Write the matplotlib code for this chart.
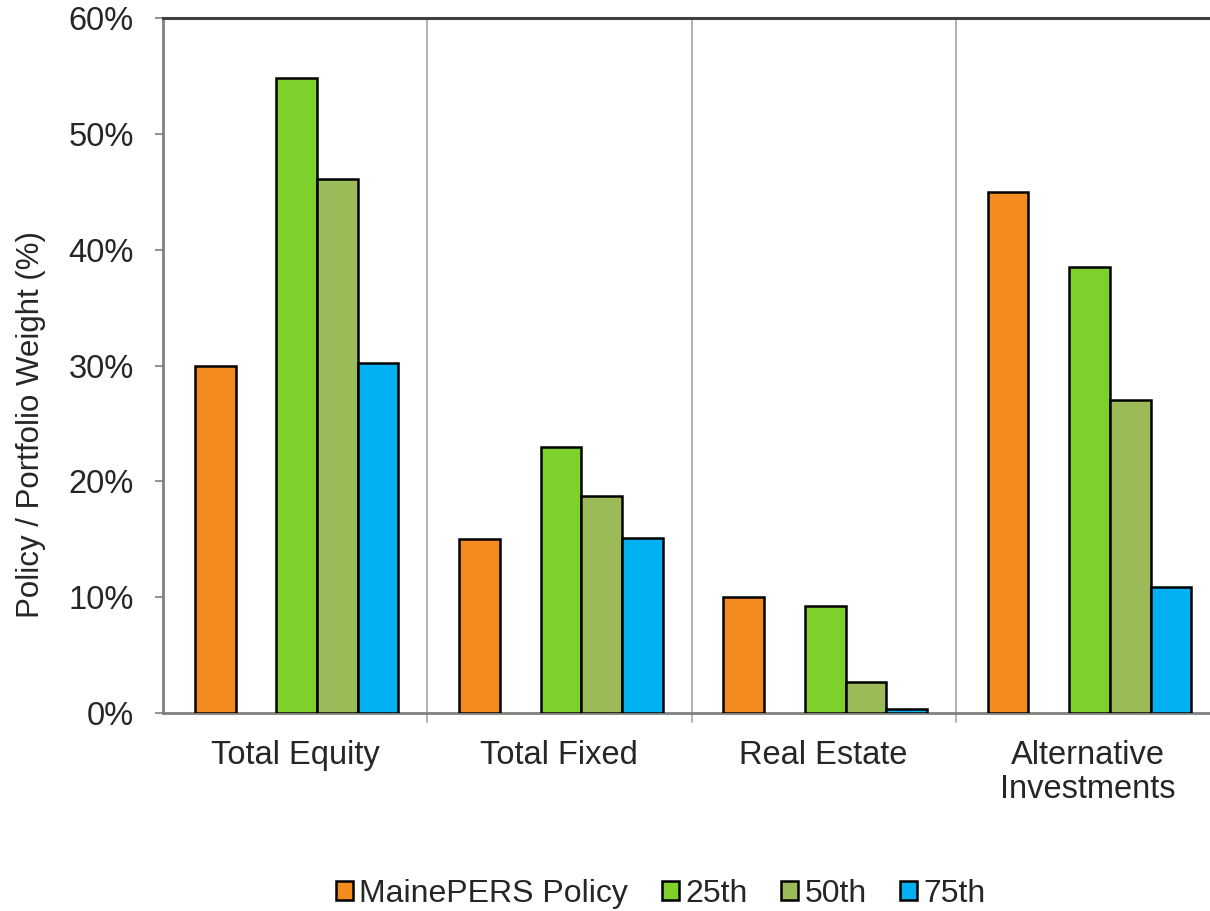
import matplotlib
matplotlib.use("Agg")
import matplotlib.pyplot as plt
from matplotlib.patches import Patch
from matplotlib.ticker import FuncFormatter

plt.rcParams['font.family'] = ['Liberation Sans', 'DejaVu Sans']

categories = ["Total Equity", "Total Fixed", "Real Estate", "Alternative\nInvestments"]
series_names = ["MainePERS Policy", "25th", "50th", "75th"]
policy = [30.0, 15.0, 10.0, 45.0]
p25 = [54.8, 23.0, 9.2, 38.5]
p50 = [46.1, 18.7, 2.7, 27.0]
p75 = [30.2, 15.1, 0.35, 10.9]
colors = ["#F38B1F", "#7ED02A", "#9BBB59", "#00B0F0"]

# each series sits in a slot; slot 1 is left empty between policy and peers
series = [policy, p25, p50, p75]
slots = [0, 2, 3, 4]

TXT = "#262626"
FS = 23.5

fig = plt.figure(figsize=(12.10, 9.11), dpi=100)
ax = fig.add_axes([163 / 1210, 1 - 713 / 911, (1220 - 163) / 1210, (713 - 18) / 911])

bar_w = 0.154
margin = 0.121
n = len(categories)
for vals, slot, col in zip(series, slots, colors):
    xs = [i + margin + slot * bar_w + bar_w / 2 for i in range(n)]
    ax.bar(xs, vals, width=bar_w, color=col, edgecolor="black", linewidth=1.8, zorder=3)

ax.set_xlim(0, n)
ax.set_ylim(0, 60)
ax.set_yticks(range(0, 61, 10))
ax.yaxis.set_major_formatter(FuncFormatter(lambda v, p: f"{int(v)}%"))
ax.set_xticks([i + 0.5 for i in range(n)])
ax.set_xticklabels(categories, fontsize=FS, color=TXT, linespacing=1.12)
ax.tick_params(axis="x", length=0, pad=19.5)
ax.tick_params(axis="y", labelsize=FS, labelcolor=TXT, length=6, width=1.2,
               color="#808080", direction="out", pad=15)

# group dividers
for b in range(1, n):
    ax.axvline(b, color="#A6A6A6", linewidth=1.2, zorder=1)
    ax.plot([b, b], [0, -0.8], color="#A6A6A6", linewidth=1.2, clip_on=False)

ax.spines["top"].set_color("#404040")
ax.spines["top"].set_linewidth(2.2)
ax.spines["left"].set_color("#808080")
ax.spines["left"].set_linewidth(2.0)
ax.spines["bottom"].set_color("#808080")
ax.spines["bottom"].set_linewidth(2.0)
ax.spines["right"].set_visible(False)

ax.set_ylabel("Policy / Portfolio Weight (%)", fontsize=22.5, color=TXT)
ax.yaxis.set_label_coords(-(163 - 46) / 1057, (713 - 425) / 695)

handles = [Patch(facecolor=c, edgecolor="black", linewidth=1.8) for c in colors]
fig.legend(handles, series_names, loc="center", bbox_to_anchor=(661 / 1210, 1 - 894 / 911),
           ncol=4, frameon=False, fontsize=23, handlelength=0.53, handleheight=0.53,
           handletextpad=0.2, columnspacing=1.05, labelcolor=TXT)

fig.savefig("out.png", dpi=100)
